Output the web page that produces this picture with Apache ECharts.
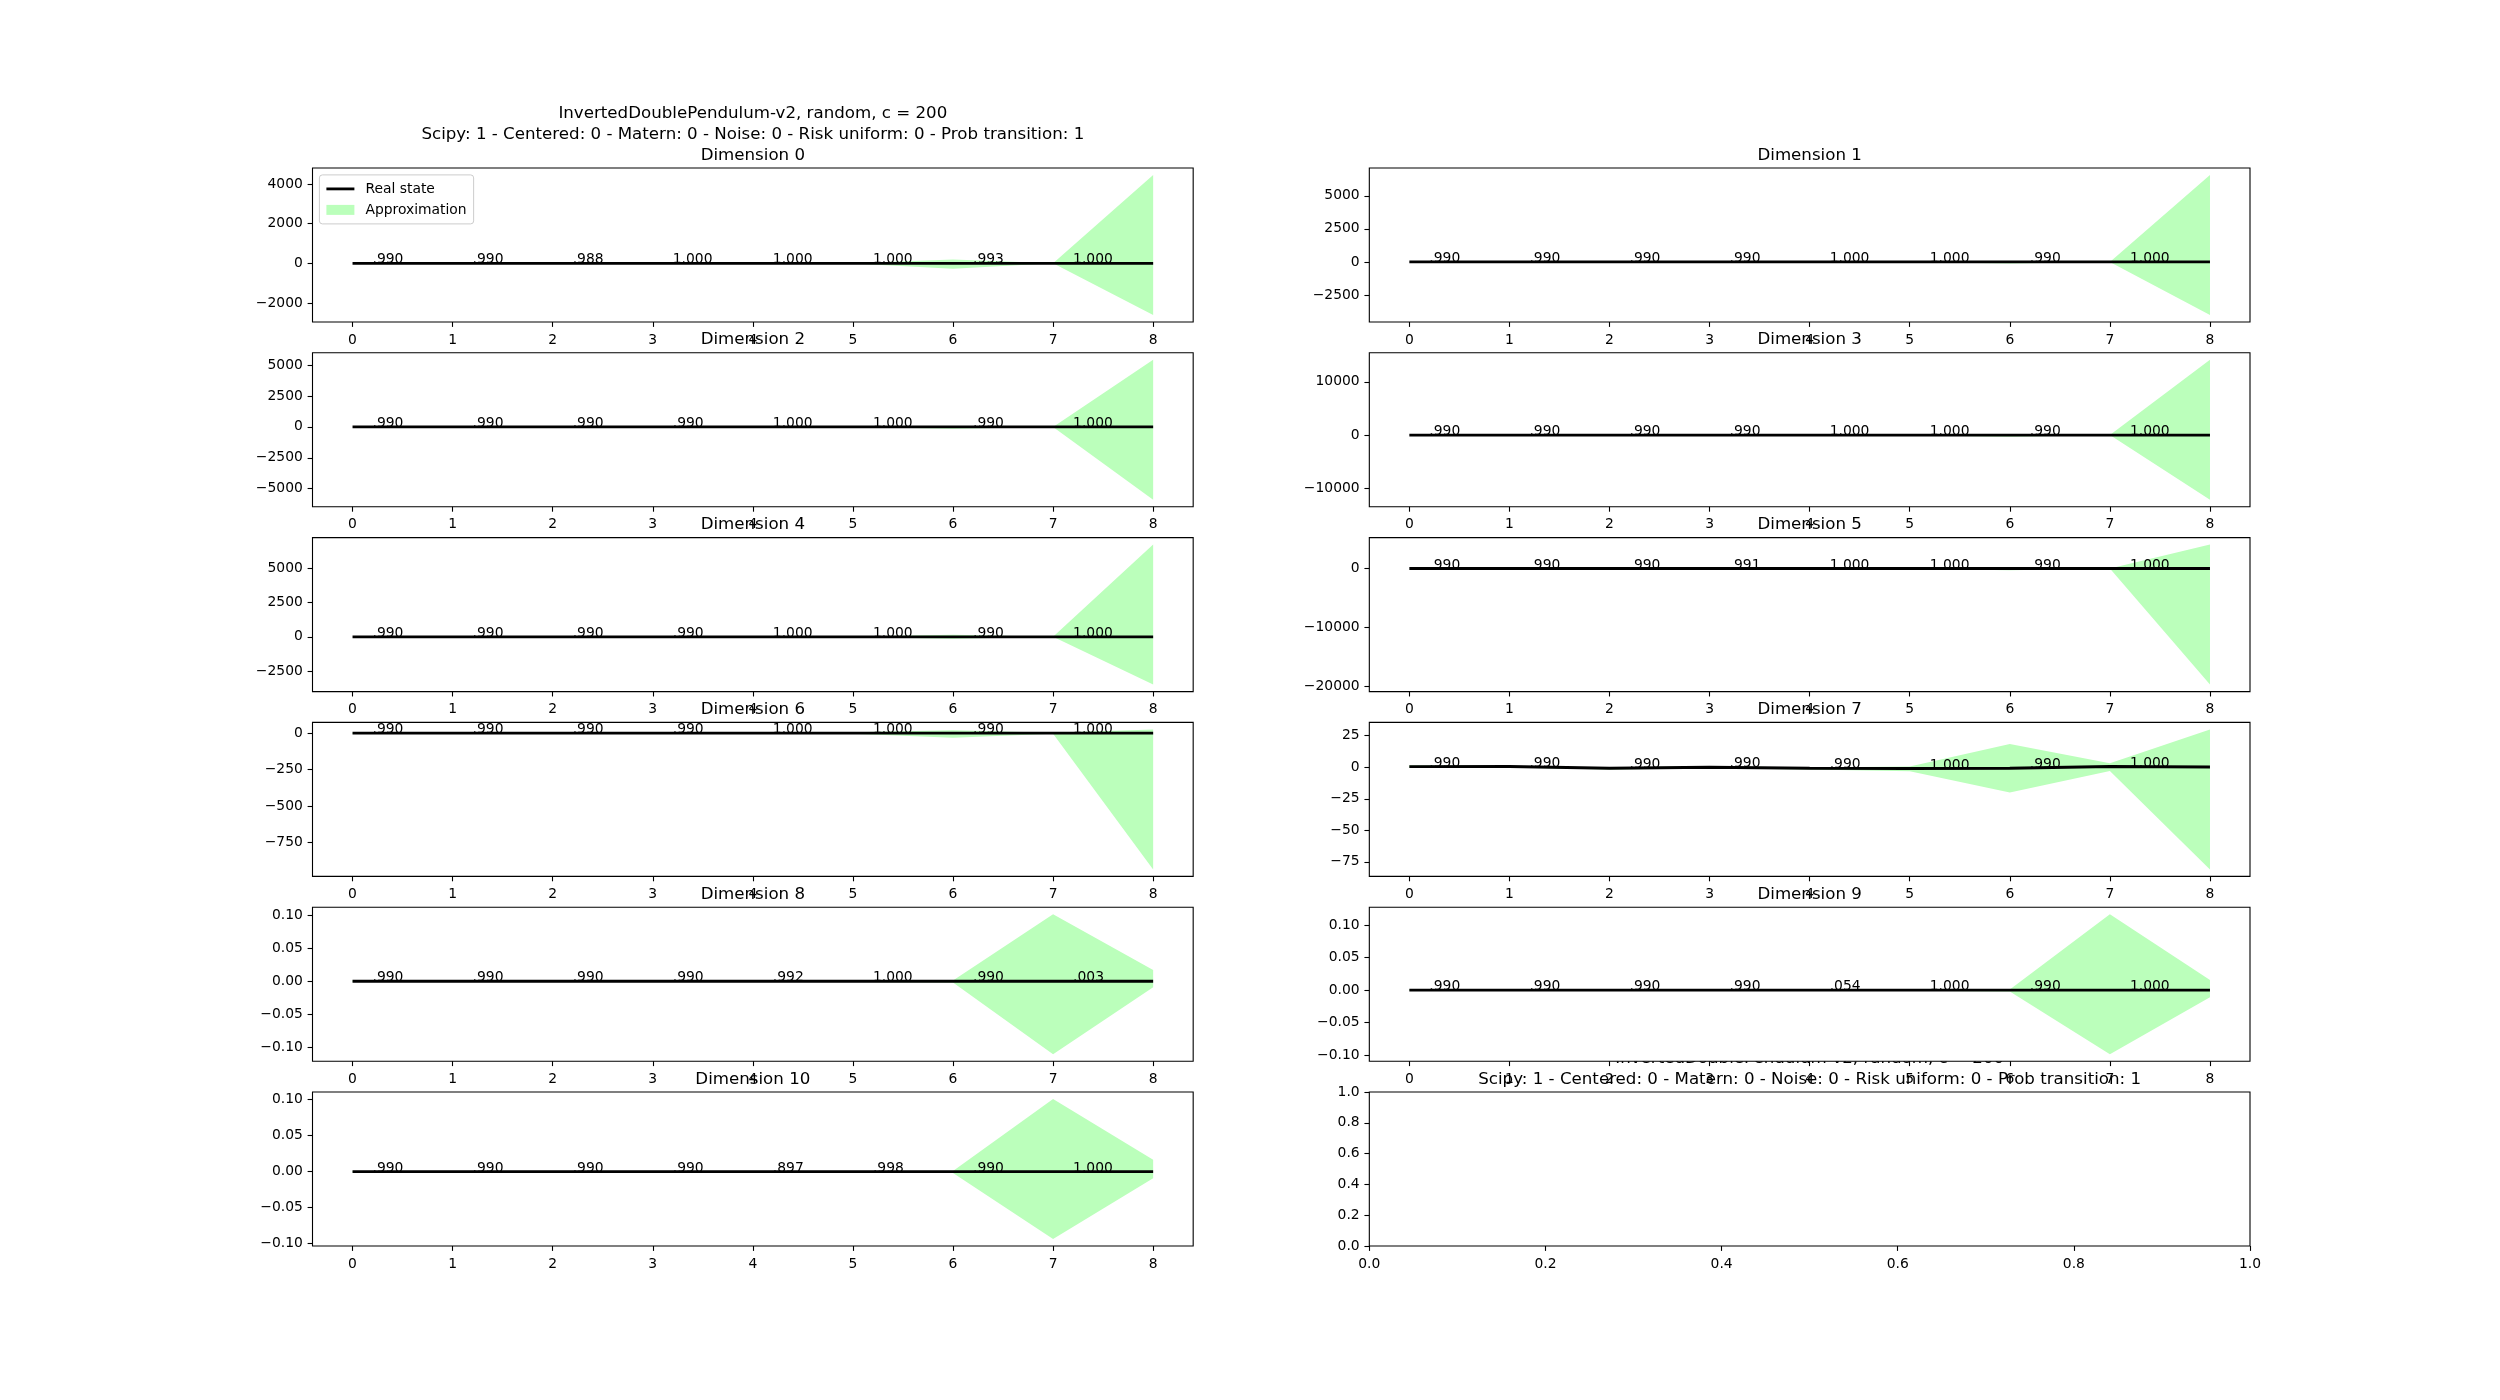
<!DOCTYPE html>
<html><head><meta charset="utf-8">
<script src="https://cdn.jsdelivr.net/npm/echarts@6/dist/echarts.min.js"></script>
<style>html,body{margin:0;padding:0;background:#fff}#c{width:2500px;height:1400px}</style>
</head><body><div id="c"></div>
<script>
// ---------------- data ----------------
const steps = [0, 1, 2, 3, 4, 5, 6, 7, 8];
const envTitle = 'InvertedDoublePendulum-v2, random, c = 200';
const paramTitle = 'Scipy: 1 - Centered: 0 - Matern: 0 - Noise: 0 - Risk uniform: 0 - Prob transition: 1';
const dimNames = ['Dimension 0','Dimension 1','Dimension 2','Dimension 3','Dimension 4','Dimension 5','Dimension 6','Dimension 7','Dimension 8','Dimension 9','Dimension 10'];

const real0 = [0, 0, 0, 0, 0, 0, 0, 0, 0];
const upper0 = [0, 0, 0, 0, 0, 10, 200, 0, 4450];
const lower0 = [0, 0, 0, 0, 0, -10, -270, 0, -2600];
const probs0 = ['.990', '.990', '.988', '1.000', '1.000', '1.000', '.993', '1.000'];
const yTicks0 = [-2000, 0, 2000, 4000];

const real1 = [0, 0, 0, 0, 0, 0, 0, 0, 0];
const upper1 = [0, 0, 0, 0, 0, 10, 60, 0, 6580];
const lower1 = [0, 0, 0, 0, 0, -10, -130, 0, -4020];
const probs1 = ['.990', '.990', '.990', '.990', '1.000', '1.000', '.990', '1.000'];
const yTicks1 = [-2500, 0, 2500, 5000];

const real2 = [0, 0, 0, 0, 0, 0, 0, 0, 0];
const upper2 = [0, 0, 0, 0, 0, 10, 40, 0, 5430];
const lower2 = [0, 0, 0, 0, 0, -10, -160, 0, -5900];
const probs2 = ['.990', '.990', '.990', '.990', '1.000', '1.000', '.990', '1.000'];
const yTicks2 = [-5000, -2500, 0, 2500, 5000];

const real3 = [0, 0, 0, 0, 0, 0, 0, 0, 0];
const upper3 = [0, 0, 0, 0, 0, 20, 100, 0, 14140];
const lower3 = [0, 0, 0, 0, 0, -20, -300, 0, -12150];
const probs3 = ['.990', '.990', '.990', '.990', '1.000', '1.000', '.990', '1.000'];
const yTicks3 = [-10000, 0, 10000];

const real4 = [0, 0, 0, 0, 0, 0, 0, 0, 0];
const upper4 = [0, 0, 0, 0, 0, 20, 150, 0, 6750];
const lower4 = [0, 0, 0, 0, 0, -20, -150, 0, -3500];
const probs4 = ['.990', '.990', '.990', '.990', '1.000', '1.000', '.990', '1.000'];
const yTicks4 = [-2500, 0, 2500, 5000];

const real5 = [0, 0, 0, 0, 0, 0, 0, 0, 0];
const upper5 = [0, 0, 0, 0, 0, 50, 200, 0, 4060];
const lower5 = [0, 0, 0, 0, 0, -50, -280, 0, -19720];
const probs5 = ['.990', '.990', '.990', '.991', '1.000', '1.000', '.990', '1.000'];
const yTicks5 = [-20000, -10000, 0];

const real6 = [0, 0, 0, 0, 0, 0, 0, 0, 0];
const upper6 = [2, 2, 2, 2, 2, 5, 20, 2, 25];
const lower6 = [-5, -5, -5, -5, -5, -5, -32, -5, -934];
const probs6 = ['.990', '.990', '.990', '.990', '1.000', '1.000', '.990', '1.000'];
const yTicks6 = [-750, -500, -250, 0];

const real7 = [0.5, 0.6, -0.8, 0.0, -0.8, -1.0, -0.8, 0.6, 0.2];
const upper7 = [1.5, 1.2, -0.2, 0.8, -0.2, 0.5, 18.4, 3.2, 30];
const lower7 = [-0.5, -0.3, -1.8, -0.8, -1.8, -3.2, -20, -2.9, -81];
const probs7 = ['.990', '.990', '.990', '.990', '.990', '1.000', '.990', '1.000'];
const yTicks7 = [-75, -50, -25, 0, 25];

const real8 = [0, 0, 0, 0, 0, 0, 0, 0, 0];
const upper8 = [0.001, 0.001, 0.001, 0.001, 0.001, 0.001, 0.001, 0.102, 0.017];
const lower8 = [-0.001, -0.001, -0.001, -0.001, -0.001, -0.001, -0.002, -0.111, -0.009];
const probs8 = ['.990', '.990', '.990', '.990', '.992', '1.000', '.990', '.003'];
const yTicks8 = [-0.10, -0.05, 0.00, 0.05, 0.10];

const real9 = [0, 0, 0, 0, 0, 0, 0, 0, 0];
const upper9 = [0.001, 0.001, 0.001, 0.001, 0.001, 0.001, 0.001, 0.117, 0.0157];
const lower9 = [-0.001, -0.001, -0.001, -0.001, -0.001, -0.001, -0.002, -0.0985, -0.0107];
const probs9 = ['.990', '.990', '.990', '.990', '.054', '1.000', '.990', '1.000'];
const yTicks9 = [-0.10, -0.05, 0.00, 0.05, 0.10];

const real10 = [0, 0, 0, 0, 0, 0, 0, 0, 0];
const upper10 = [0.001, 0.001, 0.001, 0.001, 0.001, 0.001, 0.001, 0.1009, 0.0165];
const lower10 = [-0.001, -0.001, -0.001, -0.001, -0.001, -0.001, -0.002, -0.0936, -0.0092];
const probs10 = ['.990', '.990', '.990', '.990', '.897', '.998', '.990', '1.000'];
const yTicks10 = [-0.10, -0.05, 0.00, 0.05, 0.10];

const emptyTicks = [0.0, 0.2, 0.4, 0.6, 0.8, 1.0];

// ---------------- chart ----------------
const reals = [real0, real1, real2, real3, real4, real5, real6, real7, real8, real9, real10];
const uppers = [upper0, upper1, upper2, upper3, upper4, upper5, upper6, upper7, upper8, upper9, upper10];
const lowers = [lower0, lower1, lower2, lower3, lower4, lower5, lower6, lower7, lower8, lower9, lower10];
const probs = [probs0, probs1, probs2, probs3, probs4, probs5, probs6, probs7, probs8, probs9, probs10];
const yTicks = [yTicks0, yTicks1, yTicks2, yTicks3, yTicks4, yTicks5, yTicks6, yTicks7, yTicks8, yTicks9, yTicks10];

const FONT = 'DejaVu Sans';
const FS = 13.89, TFS = 16.67;
const GREEN = '#bbffbb';
const L = 312.5, R = 2250, T = 168, B = 1246;
const cw = (R - L) / 2.2;
const ch = (B - T) / 7;
function cell(r, c) {
  return { left: L + c * cw * 1.2, top: T + r * ch * 1.2, width: cw, height: ch };
}
function decimals(ticks) {
  const st = ticks[1] - ticks[0];
  return st < 1 ? Math.ceil(-Math.log10(st) - 1e-9) : 0;
}
function fmt(v, d) { return v.toFixed(d).replace('-', '\u2212'); }

const grids = [], xAxes = [], yAxes = [], series = [], graphics = [];

function addAxes(g, rect, xmin, xmax, xt, ymin, ymax, yt) {
  grids.push({ left: rect.left, top: rect.top, width: rect.width, height: rect.height, show: true,
    backgroundColor: '#fff', borderColor: '#000', borderWidth: 1.1, outerBoundsMode: 'none', containLabel: false });
  const xd = decimals(xt), yd = decimals(yt);
  xAxes.push({ type: 'value', gridIndex: g, min: xmin, max: xmax, position: 'bottom',
    axisLine: { show: false, onZero: false }, splitLine: { show: false },
    axisTick: { show: true, customValues: xt, length: 4.9, lineStyle: { color: '#000', width: 1.1 } },
    axisLabel: { customValues: xt, margin: 11, color: '#000', fontFamily: FONT, fontSize: FS,
      formatter: v => fmt(v, xd) } });
  yAxes.push({ type: 'value', gridIndex: g, min: ymin, max: ymax, position: 'left',
    axisLine: { show: false, onZero: false }, splitLine: { show: false },
    axisTick: { show: true, customValues: yt, length: 4.9, lineStyle: { color: '#000', width: 1.1 } },
    axisLabel: { customValues: yt, margin: 9.7, color: '#000', fontFamily: FONT, fontSize: FS,
      formatter: v => fmt(v, yd) } });
}

for (let d = 0; d < 11; d++) {
  const r = Math.floor(d / 2), c = d % 2;
  const rect = cell(r, c);
  const all = reals[d].concat(uppers[d], lowers[d]);
  const mn = Math.min(...all), mx = Math.max(...all);
  const pad = 0.05 * (mx - mn);
  const xpad = 0.05 * (steps[steps.length - 1] - steps[0]);
  addAxes(d, rect, steps[0] - xpad, steps[steps.length - 1] + xpad, steps, mn - pad, mx + pad, yTicks[d]);
  const up = uppers[d], lo = lowers[d], re = reals[d], pr = probs[d];
  series.push({
    type: 'custom', name: 'Approximation', xAxisIndex: d, yAxisIndex: d, data: [[steps[0], re[0]]],
    itemStyle: { color: GREEN }, z: 1, silent: true,
    renderItem: (params, api) => {
      const top = steps.map((x, i) => api.coord([x, up[i]]));
      const bot = steps.map((x, i) => api.coord([x, lo[i]])).reverse();
      return { type: 'polygon', shape: { points: top.concat(bot) }, style: { fill: GREEN } };
    }
  });
  series.push({
    type: 'line', name: 'Real state', xAxisIndex: d, yAxisIndex: d,
    data: steps.map((x, i) => [x, re[i]]), symbol: 'none', showSymbol: false,
    lineStyle: { color: '#000', width: 2.8 }, itemStyle: { color: '#000' }, z: 3, silent: true
  });
  series.push({
    type: 'custom', xAxisIndex: d, yAxisIndex: d, z: 4, silent: true,
    data: pr.map((p, i) => [steps[i], re[i]]),
    renderItem: (params, api) => {
      const p = api.coord([api.value(0) + 0.2, api.value(1)]);
      return { type: 'text', x: p[0], y: p[1] + 3.5,
        style: { text: pr[params.dataIndex], fill: '#000', font: FS + 'px "' + FONT + '"',
          align: 'left', verticalAlign: 'bottom', textAlign: 'left', textVerticalAlign: 'bottom' } };
    }
  });
  const cx = rect.left + rect.width / 2;
  const base = rect.top - 8.33;
  graphics.push({ type: 'text', x: cx, y: base - 4.5, z: 10,
    style: { text: dimNames[d], fill: '#000', font: TFS + 'px "' + FONT + '"', align: 'center', verticalAlign: 'middle', textAlign: 'center', textVerticalAlign: 'middle' } });
  if (d === 0) {
    [paramTitle, envTitle].forEach((t, k) => {
      graphics.push({ type: 'text', x: cx, y: base - 4.5 - 20.8 * (k + 1), z: 10,
        style: { text: t, fill: '#000', font: TFS + 'px "' + FONT + '"', align: 'center', verticalAlign: 'middle', textAlign: 'center', textVerticalAlign: 'middle' } });
    });
  }
}

// empty last panel
{
  const rect = cell(5, 1);
  addAxes(11, rect, emptyTicks[0], emptyTicks[emptyTicks.length - 1], emptyTicks,
    emptyTicks[0], emptyTicks[emptyTicks.length - 1], emptyTicks);
  const cx = rect.left + rect.width / 2;
  const base = rect.top - 8.33;
  graphics.push({ type: 'text', x: cx, y: base - 4.5, z: 10,
    style: { text: paramTitle, fill: '#000', font: TFS + 'px "' + FONT + '"', align: 'center', verticalAlign: 'middle', textAlign: 'center', textVerticalAlign: 'middle' } });
  graphics.push({ type: 'text', x: cx, y: base - 4.5 - 20.8, z: -5,
    style: { text: envTitle, fill: '#000', font: TFS + 'px "' + FONT + '"', align: 'center', verticalAlign: 'middle', textAlign: 'center', textVerticalAlign: 'middle' } });
}

const first = cell(0, 0);
const chart = echarts.init(document.getElementById('c'), null, { renderer: 'canvas', width: 2500, height: 1400 });
chart.setOption({
  animation: false,
  backgroundColor: '#fff',
  grid: grids, xAxis: xAxes, yAxis: yAxes, series: series,
  graphic: { elements: graphics },
  legend: {
    show: true, orient: 'vertical', left: first.left + 6.9, top: first.top + 6.9, z: 20,
    data: [{ name: 'Real state', icon: 'path://M0,0 L28,0 L28,2.8 L0,2.8 Z' }, { name: 'Approximation', icon: 'rect' }],
    itemWidth: 28, itemHeight: 10, itemGap: 5, selectedMode: false, symbolKeepAspect: true,
    textStyle: { color: '#000', fontFamily: FONT, fontSize: FS, lineHeight: 16, padding: [0, 0, 0, 6] },
    padding: [6, 7], backgroundColor: 'rgba(255,255,255,0.8)', borderColor: '#cccccc', borderWidth: 1, borderRadius: 3
  }
});
</script></body></html>
